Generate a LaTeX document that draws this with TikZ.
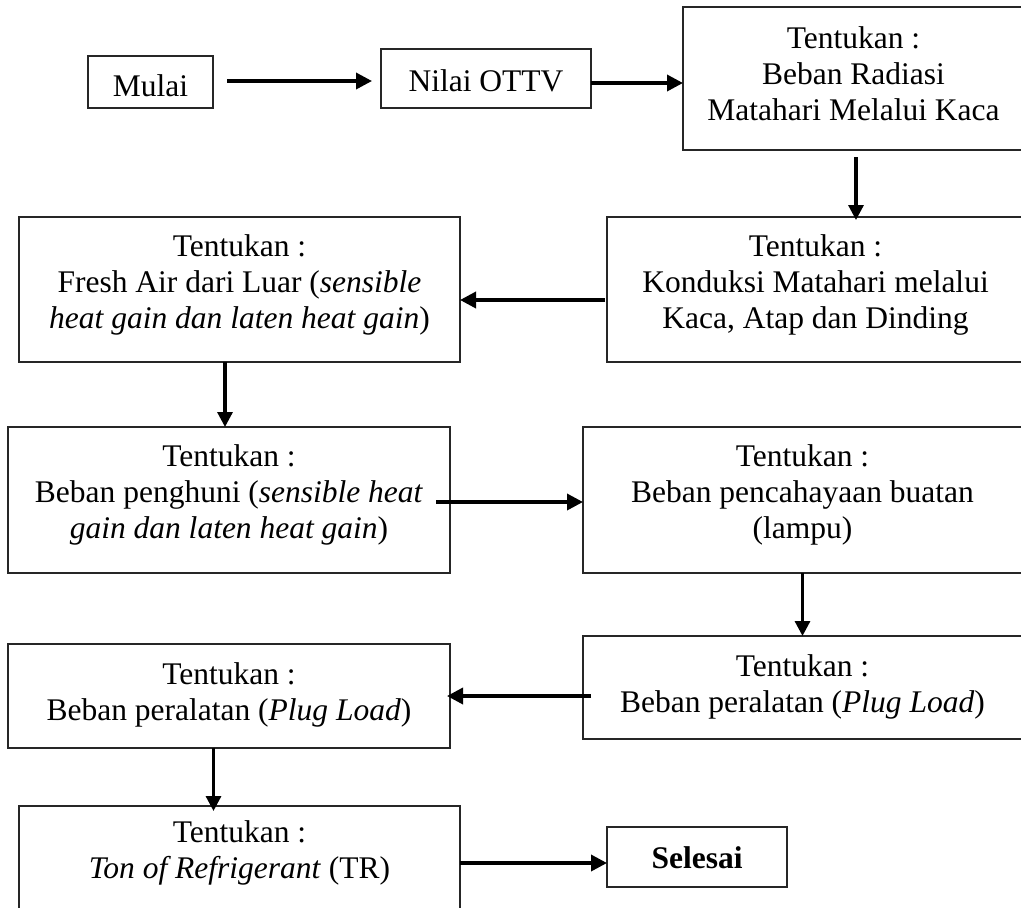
\documentclass[tikz,border=0pt]{standalone}
\usepackage{fontspec}
\setmainfont{Liberation Serif}
\usetikzlibrary{arrows.meta}
\tikzset{
  box/.style={draw=black!85, line width=1.3pt, rectangle, inner sep=0pt, outer sep=0pt, align=center,
              font=\fontsize{31.5pt}{36pt}\selectfont},
  tdown/.style={text height=#1, text depth=0pt},
  harrow/.style={line width=3.5pt, -{Triangle[length=16pt,width=16pt]}},
  varrow/.style={line width=3.2pt, -{Triangle[length=15pt,width=15pt]}}
}
\begin{document}
\begin{tikzpicture}[x=1pt,y=-1pt]
\useasboundingbox (0,0) rectangle (1021,908);
\clip (0,0) rectangle (1021,908);

\node[box, minimum width=125pt, minimum height=52pt, tdown=28pt] (mulai) at (150.5,82) {Mulai};
\node[box, minimum width=210pt, minimum height=59pt, tdown=25pt] (nilai) at (486,78.5) {Nilai OTTV};
\node[box, minimum width=341pt, minimum height=143pt, tdown=83pt] (radiasi) at (853.5,78.5)
  {Tentukan :\\Beban Radiasi\\Matahari Melalui Kaca};
\node[box, minimum width=417pt, minimum height=145pt, tdown=77pt] (konduksi) at (815.5,289.5)
  {Tentukan :\\Konduksi Matahari melalui\\Kaca, Atap dan Dinding};
\node[box, minimum width=441pt, minimum height=145pt, tdown=78pt] (fresh) at (239.5,289.5)
  {Tentukan :\\Fresh Air dari Luar (\textit{sensible}\\\textit{heat gain dan laten heat gain})};
\node[box, minimum width=442pt, minimum height=146pt, tdown=76pt] (penghuni) at (229,500)
  {Tentukan :\\Beban penghuni (\textit{sensible heat}\\\textit{gain dan laten heat gain})};
\node[box, minimum width=439pt, minimum height=146pt, tdown=76pt] (cahaya) at (802.5,500)
  {Tentukan :\\Beban pencahayaan buatan\\(lampu)};
\node[box, minimum width=439pt, minimum height=103pt, tdown=49pt] (alatR) at (802.5,687.5)
  {Tentukan :\\Beban peralatan (\textit{Plug Load})};
\node[box, minimum width=442pt, minimum height=104pt, tdown=48pt] (alatL) at (229,696)
  {Tentukan :\\Beban peralatan (\textit{Plug Load})};
\node[box, minimum width=441pt, minimum height=124pt, tdown=20pt] (ton) at (239.5,868)
  {Tentukan :\\\textit{Ton of Refrigerant} (TR)};
\node[box, minimum width=180pt, minimum height=60pt, tdown=22pt] (selesai) at (697,857)
  {\textbf{Selesai}};

\coordinate (m1) at ([xshift=14pt,yshift=1pt]mulai.east);
\draw[harrow, shorten >=9pt] (m1) -- (nilai.west |- m1);
\coordinate (n1) at ([yshift=-4.5pt]nilai.east);
\draw[harrow] (n1) -- (radiasi.west |- n1);
\coordinate (r1) at ([xshift=2.5pt,yshift=-7pt]radiasi.south);
\draw[varrow, shorten >=-3pt] (r1) -- (konduksi.north -| r1);
\coordinate (k1) at ([xshift=-2pt,yshift=-10.5pt]konduksi.west);
\draw[harrow] (k1) -- (fresh.east |- k1);
\coordinate (f1) at ([xshift=-14.5pt]fresh.south);
\draw[varrow] (f1) -- (penghuni.north -| f1);
\coordinate (p1) at ([xshift=-14pt,yshift=-2pt]penghuni.east);
\draw[harrow] (p1) -- (cahaya.west |- p1);
\draw[varrow] (cahaya.south) -- (alatR.north);
\coordinate (a1) at ([xshift=8pt,yshift=-8.5pt]alatR.west);
\draw[harrow, shorten >=-3pt] (a1) -- (alatL.east |- a1);
\coordinate (l1) at ([xshift=-15.5pt]alatL.south);
\draw[varrow, shorten >=-5pt] (l1) -- (ton.north -| l1);
\coordinate (t1) at ([yshift=5pt]ton.east);
\draw[harrow] (t1) -- (selesai.west |- t1);
\end{tikzpicture}
\end{document}
